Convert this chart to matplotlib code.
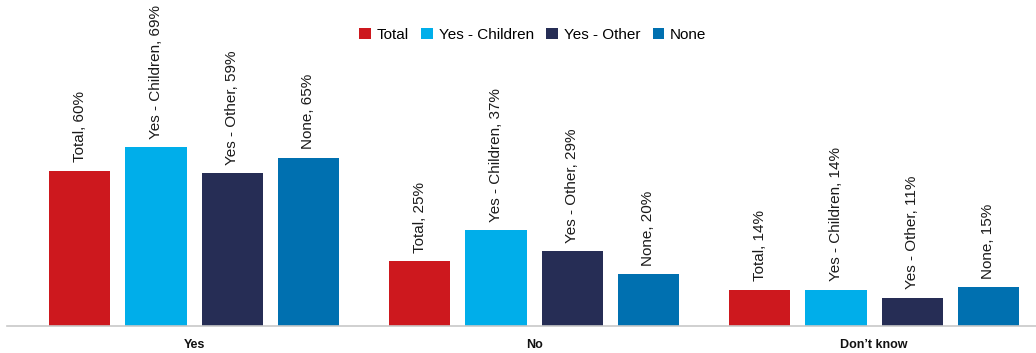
import numpy as np
import matplotlib.pyplot as plt
from matplotlib.patches import Patch

plt.rcParams['font.family'] = ['Liberation Sans', 'DejaVu Sans']

# ---- data --------------------------------------------------------------------
groups = ['Yes', 'No', "Don\u2019t know"]
series = ['Total', 'Yes - Children', 'Yes - Other', 'None']
total = [60, 25, 14]
children = [69, 37, 14]
other = [59, 29, 11]
none = [65, 20, 15]
colors = ['#CD181E', '#00AEEA', '#262D55', '#0070B0']

values = [total, children, other, none]

# ---- figure ------------------------------------------------------------------
fig = plt.figure(figsize=(10.36, 3.53), dpi=100)
ax = fig.add_axes([7 / 1036, 27 / 353, 1 - 7 / 1036, 1 - 27 / 353])

x = np.arange(len(groups))
width = 0.18
step = 0.224
offsets = (np.arange(len(series)) - 1.5) * step

for name, vals, off, col in zip(series, values, offsets, colors):
    bars = ax.bar(x + off, vals, width, color=col, label=name)
    for b, v in zip(bars, vals):
        ax.annotate(f'{name}, {v}%', (b.get_x() + b.get_width() / 2, v),
                    xytext=(0, 6), textcoords='offset points',
                    rotation=90, ha='center', va='bottom',
                    fontsize=11, color='#1a1a1a')

ax.set_xlim(-0.55, 2.476)
ax.set_ylim(0, 126)
ax.set_xticks(x)
ax.set_xticklabels(groups, fontsize=9, fontweight='bold', color='#111111')
ax.tick_params(axis='x', length=0, pad=9)
ax.set_yticks([])
for s in ['top', 'right', 'left']:
    ax.spines[s].set_visible(False)
ax.spines['bottom'].set_color('#c8c8c8')
ax.spines['bottom'].set_linewidth(1.2)

handles = [Patch(facecolor=c, label=n) for n, c in zip(series, colors)]
fig.legend(handles=handles, loc='center', ncol=4, frameon=False,
           bbox_to_anchor=(533 / 1036, 1 - 35 / 353), fontsize=11,
           handlelength=0.75, handleheight=0.75, handletextpad=0.4,
           columnspacing=0.8)

fig.savefig('out.png', dpi=100)
